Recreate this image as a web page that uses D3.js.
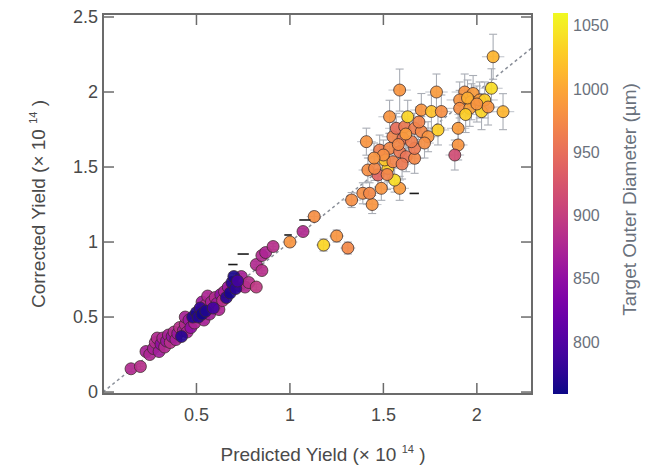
<!DOCTYPE html>
<html>
<head>
<meta charset="utf-8">
<script src="https://cdn.jsdelivr.net/npm/d3@7"></script>
<style>
  body { margin: 0; background: #fff; }
  text { font-family: "Liberation Sans", Arial, sans-serif; }
</style>
</head>
<body>
<svg id="chart" width="654" height="465"></svg>
<script>
// Shot yields: predicted vs. corrected (×10^14), coloured by target outer diameter (µm)
const predicted = [
  0.15,0.20,0.23,0.25,0.27,0.28,0.29,0.30,0.31,0.32,0.33,0.34,0.35,0.36,0.37,0.38,0.39,0.40,0.41,0.42,0.43,
  0.44,0.44,0.45,0.46,0.47,0.48,0.49,0.50,0.51,0.52,0.53,0.53,0.54,0.55,0.55,0.56,0.57,0.58,0.59,0.60,0.61,
  0.62,0.63,0.64,0.65,0.66,0.67,0.68,0.69,0.70,0.71,0.72,0.73,0.74,0.76,0.78,0.82,0.82,0.85,0.85,0.87,0.91,
  1.00,1.07,1.13,1.18,1.25,1.31,1.33,1.44,
  1.39,1.426,1.489,1.587,1.56,1.471,1.417,1.453,1.524,1.507,1.551,1.409,1.48,1.533,1.587,1.622,1.667,1.667,
  1.551,1.605,1.65,1.569,1.614,1.667,1.703,1.739,1.792,1.533,1.63,1.703,1.757,1.81,1.587,1.784,1.9,1.9,1.882,
  1.935,1.98,1.908,1.971,2.015,2.042,1.908,1.962,2.025,2.14,2.078,2.087,
  1.50,1.58,1.62,1.69,1.72,1.45,1.60,1.52,1.95,2.00,1.94,2.06
];
const corrected = [
  0.155,0.17,0.27,0.25,0.29,0.33,0.36,0.27,0.32,0.36,0.30,0.34,0.38,0.33,0.37,0.40,0.35,0.39,0.43,0.37,0.41,
  0.45,0.50,0.40,0.48,0.43,0.50,0.46,0.53,0.50,0.56,0.52,0.60,0.48,0.58,0.54,0.64,0.52,0.60,0.56,0.63,0.59,
  0.55,0.65,0.61,0.67,0.63,0.70,0.66,0.73,0.77,0.69,0.74,0.71,0.77,0.70,0.73,0.70,0.85,0.81,0.91,0.93,0.97,
  1.00,1.07,1.17,0.98,1.04,0.96,1.28,1.25,
  1.325,1.325,1.358,1.358,1.413,1.447,1.48,1.491,1.491,1.547,1.535,1.669,1.613,1.624,1.602,1.569,1.558,1.624,
  1.702,1.691,1.669,1.758,1.769,1.758,1.736,1.702,1.747,1.835,1.835,1.88,1.87,1.87,2.013,2.0,1.758,1.647,1.58,
  2.0,1.99,1.947,1.935,1.947,1.947,1.891,1.891,1.869,1.869,2.025,2.235,
  1.58,1.65,1.72,1.80,1.66,1.56,1.52,1.45,1.96,1.92,1.85,1.90
];
const diameter = [
  880,885,870,875,870,880,880,865,850,875,880,860,870,885,855,880,870,860,885,772,865,
  880,870,870,860,850,768,875,765,770,778,762,860,870,880,768,875,865,870,790,880,860,
  875,850,885,870,772,860,766,770,764,775,790,855,870,880,885,895,880,885,880,875,885,
  985,880,980,1035,985,975,980,985,
  980,975,985,990,1040,940,980,975,1030,1025,970,985,965,975,960,955,975,960,
  970,955,965,950,960,965,975,985,1030,985,1035,985,1020,980,985,990,990,985,915,
  985,990,985,1000,990,1030,980,995,1035,1010,1040,1010,
  980,975,990,970,980,985,960,970,1005,985,1030,985
];
// Uncertainties; 0.02 / 0.015 for the low-yield group
const errCorrected = [
  ...Array(63).fill(0.02),
  0.03,0.02,0.03,0.04,0.04,0.04,0.05,0.06,
  0.07,0.07,0.08,0.08,0.08,0.08,0.08,0.08,0.09,0.09,0.09,0.09,0.10,0.10,0.10,0.10,0.10,0.10,
  0.10,0.10,0.10,0.10,0.10,0.10,0.10,0.10,0.10,0.11,0.11,0.11,0.11,0.11,0.14,0.12,0.12,0.10,0.10,
  0.12,0.12,0.12,0.12,0.12,0.12,0.12,0.12,0.12,0.12,0.13,0.15,
  0.10,0.10,0.10,0.10,0.10,0.10,0.10,0.10,0.12,0.12,0.12,0.12
];
const errPredicted = [
  ...Array(63).fill(0.015),
  0.04,0.03,0.04,0.04,0.04,0.04,0.05,0.05,
  0.05,0.05,0.05,0.05,0.05,0.05,0.05,0.05,0.05,0.05,0.05,0.05,0.05,0.05,0.05,0.05,0.05,0.05,
  0.06,0.06,0.06,0.06,0.06,0.06,0.06,0.06,0.06,0.06,0.06,0.06,0.06,0.06,0.06,0.06,0.06,0.05,0.05,
  0.07,0.07,0.07,0.07,0.07,0.07,0.07,0.07,0.07,0.06,0.06,0.06,
  0.05,0.05,0.05,0.05,0.05,0.05,0.05,0.05,0.06,0.06,0.06,0.06
];
// Dark horizontal dashes (x-only measurements)
const dashX    = [0.75, 0.695, 1.08, 0.99, 1.665];
const dashY    = [0.92, 0.85, 1.147, 1.047, 1.324];
const dashHalf = [0.03, 0.025, 0.03, 0.02, 0.025];

const xTicks = [0.5, 1, 1.5, 2];
const yTicks = [0, 0.5, 1, 1.5, 2, 2.5];
const cTicks = [800, 850, 900, 950, 1000, 1050];

const svg = d3.select("#chart");
const plot = { left: 103, right: 532, top: 14, bottom: 394 };

const x = d3.scaleLinear().domain([0, 2.295]).range([plot.left, plot.right]);
const y = d3.scaleLinear().domain([-0.013, 2.52]).range([plot.bottom, plot.top]);
const color = d3.scaleSequential(d3.interpolatePlasma).domain([759, 1060]);

const axisColor = "#6b6b6b";
const tickLen = 11;

// clip for marks
svg.append("defs").append("clipPath").attr("id", "plotClip")
  .append("rect").attr("x", plot.left).attr("y", plot.top)
  .attr("width", plot.right - plot.left).attr("height", plot.bottom - plot.top);

// y = x reference line
const diag = svg.append("g").attr("clip-path", "url(#plotClip)");
diag.append("line")
  .attr("x1", x(0)).attr("y1", y(0))
  .attr("x2", x(2.295)).attr("y2", y(2.295))
  .attr("stroke", "#8a8f99").attr("stroke-width", 1.5)
  .attr("stroke-dasharray", "3,3");

// smallest targets are drawn last so they sit on top of the dense low-yield band
const idx = d3.range(predicted.length)
  .sort((a, b) => (diameter[a] < 800) - (diameter[b] < 800) || a - b);
const marks = svg.append("g").attr("clip-path", "url(#plotClip)");

// error bars
const eb = marks.append("g").attr("stroke", "#a9adb5").attr("stroke-width", 1.1).attr("fill", "none");
idx.forEach(i => {
  const cx = x(predicted[i]), cy = y(corrected[i]);
  const y0 = y(corrected[i] - errCorrected[i]), y1 = y(corrected[i] + errCorrected[i]);
  const x0 = x(predicted[i] - errPredicted[i]), x1 = x(predicted[i] + errPredicted[i]);
  eb.append("line").attr("x1", cx).attr("x2", cx).attr("y1", y0).attr("y2", y1);
  eb.append("line").attr("x1", cx - 4).attr("x2", cx + 4).attr("y1", y0).attr("y2", y0);
  eb.append("line").attr("x1", cx - 4).attr("x2", cx + 4).attr("y1", y1).attr("y2", y1);
  eb.append("line").attr("x1", x0).attr("x2", x1).attr("y1", cy).attr("y2", cy).attr("stroke", "#c3c7ce");
});

// points
marks.append("g").selectAll("circle").data(idx).join("circle")
  .attr("cx", i => x(predicted[i]))
  .attr("cy", i => y(corrected[i]))
  .attr("r", 6)
  .attr("fill", i => color(diameter[i]))
  .attr("fill-opacity", 0.92)
  .attr("stroke", "#3a2a2a")
  .attr("stroke-opacity", 0.75)
  .attr("stroke-width", 1);

// dark dashes
marks.append("g").selectAll("line").data(d3.range(dashX.length)).join("line")
  .attr("x1", i => x(dashX[i] - dashHalf[i]))
  .attr("x2", i => x(dashX[i] + dashHalf[i]))
  .attr("y1", i => y(dashY[i])).attr("y2", i => y(dashY[i]))
  .attr("stroke", "#1a1a1a").attr("stroke-width", 1.6);

// frame
svg.append("rect")
  .attr("x", plot.left).attr("y", plot.top)
  .attr("width", plot.right - plot.left).attr("height", plot.bottom - plot.top)
  .attr("fill", "none").attr("stroke", axisColor).attr("stroke-width", 2);

// inward ticks on all four sides
const tk = svg.append("g").attr("stroke", axisColor).attr("stroke-width", 1.5);
xTicks.forEach(v => {
  tk.append("line").attr("x1", x(v)).attr("x2", x(v)).attr("y1", plot.bottom).attr("y2", plot.bottom - tickLen);
  tk.append("line").attr("x1", x(v)).attr("x2", x(v)).attr("y1", plot.top).attr("y2", plot.top + tickLen);
});
yTicks.forEach(v => {
  tk.append("line").attr("y1", y(v)).attr("y2", y(v)).attr("x1", plot.left).attr("x2", plot.left + tickLen);
  tk.append("line").attr("y1", y(v)).attr("y2", y(v)).attr("x1", plot.right).attr("x2", plot.right - tickLen);
});

// tick labels
const tickFont = 18, labelColor = "#4a4a4a";
svg.append("g").selectAll("text").data(xTicks).join("text")
  .attr("x", d => x(d)).attr("y", 421)
  .attr("text-anchor", "middle").attr("font-size", tickFont).attr("fill", labelColor)
  .text(d => d3.format("")(d));
svg.append("g").selectAll("text").data(yTicks).join("text")
  .attr("x", 98).attr("y", d => y(d)).attr("dy", "0.35em")
  .attr("text-anchor", "end").attr("font-size", tickFont).attr("fill", labelColor)
  .text(d => d3.format("")(d));

// axis titles
function titleWithExp(g, base) {
  g.append("tspan").text(base + " (× 10 ");
  g.append("tspan").attr("font-size", 11).attr("dy", -8).text("14");
  g.append("tspan").attr("dy", 8).text(" )");
}
const xt = svg.append("text").attr("x", 323).attr("y", 461)
  .attr("text-anchor", "middle").attr("font-size", 19).attr("fill", labelColor);
titleWithExp(xt, "Predicted Yield");
const yt = svg.append("text").attr("transform", `translate(45,${(plot.top + plot.bottom) / 2}) rotate(-90)`)
  .attr("text-anchor", "middle").attr("font-size", 19).attr("fill", labelColor);
titleWithExp(yt, "Corrected Yield");

// colour bar
const cb = { x: 553, w: 15, top: 13, bottom: 394 };
const cy = d3.scaleLinear().domain(color.domain()).range([cb.bottom, cb.top]);
const grad = svg.select("defs").append("linearGradient").attr("id", "cbGrad")
  .attr("x1", 0).attr("y1", 1).attr("x2", 0).attr("y2", 0);
d3.range(0, 1.0001, 0.05).forEach(t => {
  grad.append("stop").attr("offset", t).attr("stop-color", d3.interpolatePlasma(t));
});
svg.append("rect").attr("x", cb.x).attr("y", cb.top).attr("width", cb.w)
  .attr("height", cb.bottom - cb.top).attr("fill", "url(#cbGrad)");
svg.append("g").selectAll("text").data(cTicks).join("text")
  .attr("x", cb.x + cb.w + 5).attr("y", d => cy(d)).attr("dy", "0.35em")
  .attr("font-family", "'DejaVu Sans', Verdana, sans-serif")
  .attr("font-size", 16).attr("fill", "#6a717c")
  .text(d => d);
svg.append("text")
  .attr("transform", `translate(636,${(cb.top + cb.bottom) / 2 - 4}) rotate(-90)`)
  .attr("text-anchor", "middle")
  .attr("font-family", "'DejaVu Sans', Verdana, sans-serif")
  .attr("font-size", 19).attr("fill", "#6a717c")
  .text("Target Outer Diameter (µm)");
</script>
</body>
</html>
